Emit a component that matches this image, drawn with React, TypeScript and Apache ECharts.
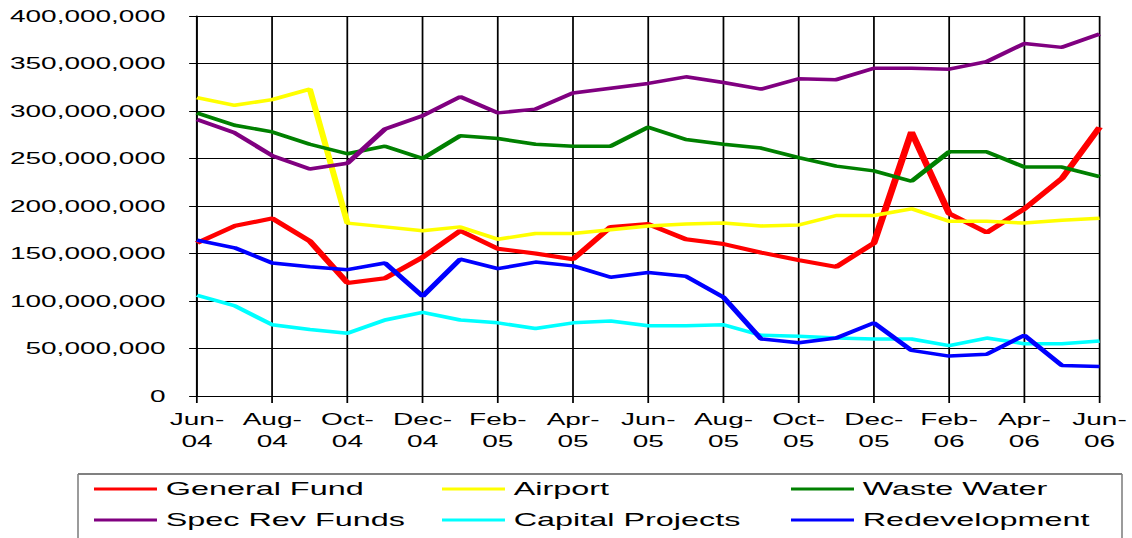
import React, { useEffect, useRef } from "react";
import * as echarts from "echarts";

// ---- data (values in millions of dollars) ----
const months = [
  "Jun-04", "Jul-04", "Aug-04", "Sep-04", "Oct-04", "Nov-04", "Dec-04",
  "Jan-05", "Feb-05", "Mar-05", "Apr-05", "May-05", "Jun-05", "Jul-05",
  "Aug-05", "Sep-05", "Oct-05", "Nov-05", "Dec-05", "Jan-06", "Feb-06",
  "Mar-06", "Apr-06", "May-06", "Jun-06",
];

const generalFund = [161, 179, 187, 163, 119, 124, 146, 174, 155, 150, 144, 178, 181, 165, 160, 151, 143, 136, 161, 278, 192, 172, 197, 229, 283];
const airport = [314, 306, 312, 323, 182, 178, 174, 178, 165, 171, 171, 175, 179, 181, 182, 179, 180, 190, 190, 197, 184, 184, 182, 185, 187];
const wasteWater = [298, 285, 278, 265, 255, 263, 250, 274, 271, 265, 263, 263, 283, 270, 265, 261, 251, 242, 237, 226, 257, 257, 241, 241, 231];
const specRevFunds = [291, 277, 253, 239, 245, 281, 295, 315, 298, 302, 319, 324, 329, 336, 330, 323, 334, 333, 345, 345, 344, 352, 371, 367, 381];
const capitalProjects = [106, 95, 75, 70, 66, 80, 88, 80, 77, 71, 77, 79, 74, 74, 75, 64, 63, 61, 60, 60, 53, 61, 55, 55, 58];
const redevelopment = [164, 156, 140, 136, 133, 140, 105, 144, 134, 141, 137, 125, 130, 126, 104, 60, 56, 61, 77, 48, 42, 44, 64, 32, 31];

const seriesNames = ["General Fund", "Airport", "Waste Water", "Spec Rev Funds", "Capital Projects", "Redevelopment"];
const seriesData = [generalFund, airport, wasteWater, specRevFunds, capitalProjects, redevelopment];
const seriesColors = ["#FF0000", "#FFFF00", "#008000", "#800080", "#00FFFF", "#0000FF"];
const seriesWidths = [4, 3.5, 3.5, 3.5, 3.5, 3.5];

const yMin = 0;
const yMax = 400000000;
const yInterval = 50000000;

// ---- layout (the original chart is horizontally stretched) ----
const PAGE_W = 1132;
const PAGE_H = 538;
const CHART_W = 647;
const SX = PAGE_W / CHART_W;
const FONT = "'Liberation Sans', Arial, sans-serif";

const fmt = (v: number) => String(Math.round(v)).replace(/\B(?=(\d{3})+(?!\d))/g, ",");

export default function App() {
  const ref = useRef<HTMLDivElement>(null);

  useEffect(() => {
    document.body.style.margin = "0";
    document.documentElement.style.overflow = "hidden";
    const chart = echarts.init(ref.current!, null, { renderer: "svg" });

    const px = (x: number) => x / SX;
    const legendCols = [px(94), px(442), px(791)];
    const legendRows = [479, 510];

    chart.setOption({
      animation: false,
      backgroundColor: "#ffffff",
      grid: {
        left: px(197),
        right: CHART_W - px(1103),
        top: 16,
        bottom: PAGE_H - 396,
        containLabel: false,
      },
      xAxis: {
        type: "category",
        data: months,
        boundaryGap: false,
        axisLine: { show: true, lineStyle: { color: "#000", width: 1 } },
        axisTick: { show: true, interval: 1, length: 7, lineStyle: { color: "#000" } },
        axisLabel: {
          interval: 1,
          margin: 12,
          color: "#000",
          fontFamily: FONT,
          fontSize: 16,
          lineHeight: 22,
          formatter: (v: string) => v.replace("-", "-\n"),
        },
        splitLine: { show: true, interval: 1, lineStyle: { color: "#000", width: 1 } },
      },
      yAxis: {
        type: "value",
        min: yMin,
        max: yMax,
        interval: yInterval,
        axisLine: { show: true, lineStyle: { color: "#000", width: 1 } },
        axisTick: { show: true, length: 4.5, lineStyle: { color: "#000" } },
        axisLabel: {
          margin: 18,
          color: "#000",
          fontFamily: FONT,
          fontSize: 16,
          formatter: (v: number) => fmt(v),
        },
        splitLine: { show: true, lineStyle: { color: "#000", width: 1 } },
      },
      legend: seriesNames.map((name, i) => ({
        data: [name],
        left: legendCols[i % 3],
        top: legendRows[Math.floor(i / 3)],
        orient: "horizontal",
        icon: "rect",
        itemWidth: 36,
        itemHeight: 3,
        itemGap: 0,
        padding: 0,
        selectedMode: false,
        textStyle: { fontFamily: FONT, fontSize: 18.5, color: "#000", lineHeight: 20 },
      })),
      graphic: [
        { type: "line", shape: { x1: px(78), y1: 474, x2: px(1122), y2: 474 }, style: { stroke: "#808080", lineWidth: 2 } },
        { type: "line", shape: { x1: px(78), y1: 474, x2: px(78), y2: 540 }, style: { stroke: "#808080", lineWidth: 0.9 } },
        { type: "line", shape: { x1: px(1122), y1: 474, x2: px(1122), y2: 540 }, style: { stroke: "#808080", lineWidth: 0.9 } },
      ],
      series: seriesNames.map((name, i) => ({
        name,
        type: "line",
        data: seriesData[i].map((v) => v * 1000000),
        symbol: "none",
        showSymbol: false,
        lineStyle: { color: seriesColors[i], width: seriesWidths[i] },
        itemStyle: { color: seriesColors[i] },
      })),
    });

    return () => chart.dispose();
  }, []);

  return (
    <div
      ref={ref}
      style={{
        position: "absolute",
        left: 0,
        top: 0,
        width: CHART_W,
        height: PAGE_H,
        transform: `scaleX(${SX})`,
        transformOrigin: "0 0",
      }}
    />
  );
}
